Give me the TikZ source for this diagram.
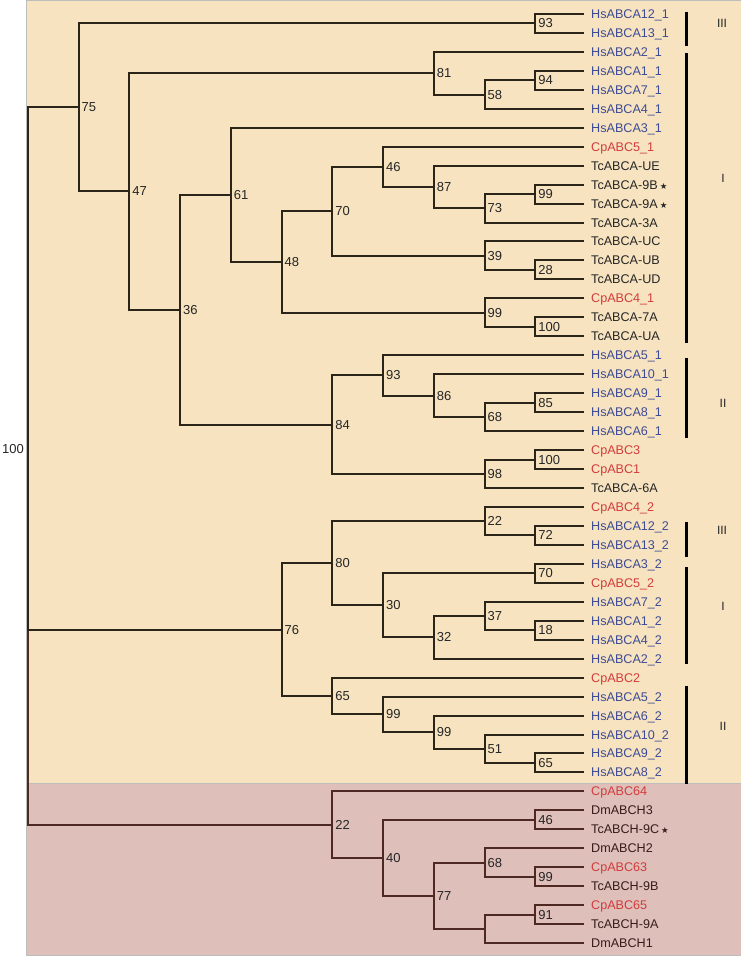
\documentclass[tikz,border=0pt]{standalone}
\usepackage{fontspec}
\setmainfont{Liberation Sans}
\newfontfamily\starfont{DejaVu Sans}
\usepackage{tikz}
\usetikzlibrary{positioning}
\usepackage{xcolor}
\definecolor{beige}{HTML}{F7E3BF}
\definecolor{rosy}{HTML}{DEBFBA}
\definecolor{frm}{HTML}{BDBDBD}
\definecolor{hsblue}{HTML}{3C4B96}
\definecolor{cpred}{HTML}{D23C3C}
\definecolor{twig}{HTML}{2B2419}
\definecolor{twigpk}{HTML}{4E2823}
\newcommand{\tstar}{\,{\starfont\fontsize{8.5}{9}\selectfont ★}}
\tikzset{
  lf/.style     ={anchor=west, inner xsep=7pt, inner ysep=0pt,
                  text height=9pt, text depth=0pt,
                  font=\fontsize{12.6}{14}\selectfont},
  hs/.style     ={lf, text=hsblue},
  cp/.style     ={lf, text=cpred},
  tc/.style     ={lf, text=black!85},
  dm/.style     ={lf, text=twigpk!70!black},
  brn/.style    ={line width=2pt, twig},
  brnpk/.style  ={line width=2pt, twigpk},
  bs/.style     ={anchor=west, xshift=2pt, inner sep=1pt,
                  text height=9pt, text depth=0pt,
                  font=\fontsize{13}{14}\selectfont, text=black!85},
  clbar/.style  ={line width=3pt, black},
  cllab/.style  ={font=\fontsize{12}{14}\selectfont, text=black!85},
  frame/.style  ={line width=1.3pt, frm},
}
\begin{document}
\begin{tikzpicture}[x=1pt, y=-1pt]
  \useasboundingbox (0,0) rectangle (741,957);
  % ---- panels
  \fill[beige] (26.7,0.7) rectangle (741,783.3);
  \fill[rosy]  (26.7,783.3) rectangle (741,955.5);
  \draw[frame] (741,0.7) -- (26.7,0.7) -- (26.7,955.5) -- (741,955.5);
  \draw[frame] (26.7,783.3) -- (741,783.3);
  % ---- leaves
  \node[hs] (hs12a) at (584,14.0)  {HsABCA12\_1};
  \node[hs] (hs13a) at (584,33.0)  {HsABCA13\_1};
  \node[hs] (hs2a)  at (584,51.9)  {HsABCA2\_1};
  \node[hs] (hs1a)  at (584,70.9)  {HsABCA1\_1};
  \node[hs] (hs7a)  at (584,89.8)  {HsABCA7\_1};
  \node[hs] (hs4a)  at (584,108.8) {HsABCA4\_1};
  \node[hs] (hs3a)  at (584,127.8) {HsABCA3\_1};
  \node[cp] (cp5a)  at (584,146.7) {CpABC5\_1};
  \node[tc] (tcUE)  at (584,165.7) {TcABCA-UE};
  \node[tc] (tc9B)  at (584,184.6) {TcABCA-9B\tstar};
  \node[tc] (tc9A)  at (584,203.6) {TcABCA-9A\tstar};
  \node[tc] (tc3A)  at (584,222.6) {TcABCA-3A};
  \node[tc] (tcUC)  at (584,241.5) {TcABCA-UC};
  \node[tc] (tcUB)  at (584,260.5) {TcABCA-UB};
  \node[tc] (tcUD)  at (584,279.4) {TcABCA-UD};
  \node[cp] (cp4a)  at (584,298.4) {CpABC4\_1};
  \node[tc] (tc7A)  at (584,317.4) {TcABCA-7A};
  \node[tc] (tcUA)  at (584,336.3) {TcABCA-UA};
  \node[hs] (hs5a)  at (584,355.3) {HsABCA5\_1};
  \node[hs] (hs10a) at (584,374.2) {HsABCA10\_1};
  \node[hs] (hs9a)  at (584,393.2) {HsABCA9\_1};
  \node[hs] (hs8a)  at (584,412.2) {HsABCA8\_1};
  \node[hs] (hs6a)  at (584,431.1) {HsABCA6\_1};
  \node[cp] (cp3)   at (584,450.1) {CpABC3};
  \node[cp] (cp1)   at (584,469.0) {CpABC1};
  \node[tc] (tc6A)  at (584,488.0) {TcABCA-6A};
  \node[cp] (cp4b)  at (584,507.0) {CpABC4\_2};
  \node[hs] (hs12b) at (584,525.9) {HsABCA12\_2};
  \node[hs] (hs13b) at (584,544.9) {HsABCA13\_2};
  \node[hs] (hs3b)  at (584,563.8) {HsABCA3\_2};
  \node[cp] (cp5b)  at (584,582.8) {CpABC5\_2};
  \node[hs] (hs7b)  at (584,601.8) {HsABCA7\_2};
  \node[hs] (hs1b)  at (584,620.7) {HsABCA1\_2};
  \node[hs] (hs4b)  at (584,639.7) {HsABCA4\_2};
  \node[hs] (hs2b)  at (584,658.6) {HsABCA2\_2};
  \node[cp] (cp2)   at (584,677.6) {CpABC2};
  \node[hs] (hs5b)  at (584,696.6) {HsABCA5\_2};
  \node[hs] (hs6b)  at (584,715.5) {HsABCA6\_2};
  \node[hs] (hs10b) at (584,734.5) {HsABCA10\_2};
  \node[hs] (hs9b)  at (584,753.4) {HsABCA9\_2};
  \node[hs] (hs8b)  at (584,772.4) {HsABCA8\_2};
  \node[cp] (cp64)  at (584,791.4) {CpABC64};
  \node[dm] (dm3)   at (584,810.3) {DmABCH3};
  \node[dm] (tc9C)  at (584,829.3) {TcABCH-9C\tstar};
  \node[dm] (dm2)   at (584,848.2) {DmABCH2};
  \node[cp] (cp63)  at (584,867.2) {CpABC63};
  \node[dm] (tcH9B) at (584,886.2) {TcABCH-9B};
  \node[cp] (cp65)  at (584,905.1) {CpABC65};
  \node[dm] (tcH9A) at (584,924.1) {TcABCH-9A};
  \node[dm] (dm1)   at (584,943.0) {DmABCH1};
  % ---- inner nodes: ABCA half
  \coordinate (root) at (27.7,466.0);
  \coordinate (n75)  at (78.5,107.5);
  \coordinate (n93a) at (535.2,23.5);
  \coordinate (n47)  at (129.2,191.5);
  \coordinate (n81)  at (433.7,73.2);
  \coordinate (n58)  at (484.5,94.6);
  \coordinate (n94)  at (535.2,80.4);
  \coordinate (n36)  at (180.0,309.8);
  \coordinate (n61)  at (230.7,194.9);
  \coordinate (n48)  at (281.5,262.0);
  \coordinate (n70a) at (332.2,211.3);
  \coordinate (n46a) at (383.0,166.9);
  \coordinate (n87)  at (433.7,187.0);
  \coordinate (n73)  at (484.5,208.4);
  \coordinate (n99b) at (535.2,194.1);
  \coordinate (n39)  at (484.5,255.7);
  \coordinate (n28)  at (535.2,270.0);
  \coordinate (n99a) at (484.5,312.6);
  \coordinate (n100a) at (535.2,326.9);
  \coordinate (n84)  at (332.2,424.6);
  \coordinate (n93b) at (383.0,375.4);
  \coordinate (n86)  at (433.7,395.6);
  \coordinate (n68a) at (484.5,416.9);
  \coordinate (n85)  at (535.2,402.7);
  \coordinate (n98)  at (484.5,473.8);
  \coordinate (n100b) at (535.2,459.6);
  \coordinate (n76)  at (281.5,629.7);
  \coordinate (n80)  at (332.2,563.3);
  \coordinate (n22a) at (484.5,521.2);
  \coordinate (n72)  at (535.2,535.4);
  \coordinate (n30)  at (383.0,605.3);
  \coordinate (n70b) at (535.2,573.3);
  \coordinate (n32)  at (433.7,637.3);
  \coordinate (n37)  at (484.5,616.0);
  \coordinate (n18)  at (535.2,630.2);
  \coordinate (n65a) at (332.2,696.0);
  \coordinate (n99c) at (383.0,714.4);
  \coordinate (n99d) at (433.7,732.1);
  \coordinate (n51)  at (484.5,748.7);
  \coordinate (n65b) at (535.2,762.9);
  % ---- inner nodes: ABCH half
  \coordinate (n22b) at (332.2,824.6);
  \coordinate (n40)  at (383.0,857.8);
  \coordinate (n46b) at (535.2,819.8);
  \coordinate (n77)  at (433.7,895.7);
  \coordinate (n68b) at (484.5,862.5);
  \coordinate (n99e) at (535.2,876.7);
  \coordinate (nu)   at (484.5,928.8);
  \coordinate (n91)  at (535.2,914.6);
  % ---- branches
  \draw[brnpk] (root) |- (n22b);
  \draw[brn] (root) |- (n75) (root) |- (n76);
  \draw[brn] (n75) |- (n93a) (n75) |- (n47);
  \draw[brn] (n93a) |- (hs12a.west) (n93a) |- (hs13a.west);
  \draw[brn] (n47) |- (n81) (n47) |- (n36);
  \draw[brn] (n81) |- (hs2a.west) (n81) |- (n58);
  \draw[brn] (n58) |- (n94) (n58) |- (hs4a.west);
  \draw[brn] (n94) |- (hs1a.west) (n94) |- (hs7a.west);
  \draw[brn] (n36) |- (n61) (n36) |- (n84);
  \draw[brn] (n61) |- (hs3a.west) (n61) |- (n48);
  \draw[brn] (n48) |- (n70a) (n48) |- (n99a);
  \draw[brn] (n70a) |- (n46a) (n70a) |- (n39);
  \draw[brn] (n46a) |- (cp5a.west) (n46a) |- (n87);
  \draw[brn] (n87) |- (tcUE.west) (n87) |- (n73);
  \draw[brn] (n73) |- (n99b) (n73) |- (tc3A.west);
  \draw[brn] (n99b) |- (tc9B.west) (n99b) |- (tc9A.west);
  \draw[brn] (n39) |- (tcUC.west) (n39) |- (n28);
  \draw[brn] (n28) |- (tcUB.west) (n28) |- (tcUD.west);
  \draw[brn] (n99a) |- (cp4a.west) (n99a) |- (n100a);
  \draw[brn] (n100a) |- (tc7A.west) (n100a) |- (tcUA.west);
  \draw[brn] (n84) |- (n93b) (n84) |- (n98);
  \draw[brn] (n93b) |- (hs5a.west) (n93b) |- (n86);
  \draw[brn] (n86) |- (hs10a.west) (n86) |- (n68a);
  \draw[brn] (n68a) |- (n85) (n68a) |- (hs6a.west);
  \draw[brn] (n85) |- (hs9a.west) (n85) |- (hs8a.west);
  \draw[brn] (n98) |- (n100b) (n98) |- (tc6A.west);
  \draw[brn] (n100b) |- (cp3.west) (n100b) |- (cp1.west);
  \draw[brn] (n76) |- (n80) (n76) |- (n65a);
  \draw[brn] (n80) |- (n22a) (n80) |- (n30);
  \draw[brn] (n22a) |- (cp4b.west) (n22a) |- (n72);
  \draw[brn] (n72) |- (hs12b.west) (n72) |- (hs13b.west);
  \draw[brn] (n30) |- (n70b) (n30) |- (n32);
  \draw[brn] (n70b) |- (hs3b.west) (n70b) |- (cp5b.west);
  \draw[brn] (n32) |- (n37) (n32) |- (hs2b.west);
  \draw[brn] (n37) |- (hs7b.west) (n37) |- (n18);
  \draw[brn] (n18) |- (hs1b.west) (n18) |- (hs4b.west);
  \draw[brn] (n65a) |- (cp2.west) (n65a) |- (n99c);
  \draw[brn] (n99c) |- (hs5b.west) (n99c) |- (n99d);
  \draw[brn] (n99d) |- (hs6b.west) (n99d) |- (n51);
  \draw[brn] (n51) |- (hs10b.west) (n51) |- (n65b);
  \draw[brn] (n65b) |- (hs9b.west) (n65b) |- (hs8b.west);
  \draw[brnpk] (n22b) |- (cp64.west) (n22b) |- (n40);
  \draw[brnpk] (n40) |- (n46b) (n40) |- (n77);
  \draw[brnpk] (n46b) |- (dm3.west) (n46b) |- (tc9C.west);
  \draw[brnpk] (n77) |- (n68b) (n77) |- (nu);
  \draw[brnpk] (n68b) |- (dm2.west) (n68b) |- (n99e);
  \draw[brnpk] (n99e) |- (cp63.west) (n99e) |- (tcH9B.west);
  \draw[brnpk] (nu) |- (n91) (nu) |- (dm1.west);
  \draw[brnpk] (n91) |- (cp65.west) (n91) |- (tcH9A.west);
  % ---- support values
  \node[bs, anchor=west, xshift=0pt, inner sep=0pt] (broot) at (0,449) {100};
  \node[bs] (b75)   at (n75)   {75};
  \node[bs] (b93a)  at (n93a)  {93};
  \node[bs] (b47)   at (n47)   {47};
  \node[bs] (b81)   at (n81)   {81};
  \node[bs] (b58)   at (n58)   {58};
  \node[bs] (b94)   at (n94)   {94};
  \node[bs] (b36)   at (n36)   {36};
  \node[bs] (b61)   at (n61)   {61};
  \node[bs] (b48)   at (n48)   {48};
  \node[bs] (b70a)  at (n70a)  {70};
  \node[bs] (b46a)  at (n46a)  {46};
  \node[bs] (b87)   at (n87)   {87};
  \node[bs] (b73)   at (n73)   {73};
  \node[bs] (b99b)  at (n99b)  {99};
  \node[bs] (b39)   at (n39)   {39};
  \node[bs] (b28)   at (n28)   {28};
  \node[bs] (b99a)  at (n99a)  {99};
  \node[bs] (b100a) at (n100a) {100};
  \node[bs] (b84)   at (n84)   {84};
  \node[bs] (b93b)  at (n93b)  {93};
  \node[bs] (b86)   at (n86)   {86};
  \node[bs] (b68a)  at (n68a)  {68};
  \node[bs] (b85)   at (n85)   {85};
  \node[bs] (b98)   at (n98)   {98};
  \node[bs] (b100b) at (n100b) {100};
  \node[bs] (b76)   at (n76)   {76};
  \node[bs] (b80)   at (n80)   {80};
  \node[bs] (b22a)  at (n22a)  {22};
  \node[bs] (b72)   at (n72)   {72};
  \node[bs] (b30)   at (n30)   {30};
  \node[bs] (b70b)  at (n70b)  {70};
  \node[bs] (b32)   at (n32)   {32};
  \node[bs] (b37)   at (n37)   {37};
  \node[bs] (b18)   at (n18)   {18};
  \node[bs] (b65a)  at (n65a)  {65};
  \node[bs] (b99c)  at (n99c)  {99};
  \node[bs] (b99d)  at (n99d)  {99};
  \node[bs] (b51)   at (n51)   {51};
  \node[bs] (b65b)  at (n65b)  {65};
  \node[bs] (b22b)  at (n22b)  {22};
  \node[bs] (b40)   at (n40)   {40};
  \node[bs] (b46b)  at (n46b)  {46};
  \node[bs] (b77)   at (n77)   {77};
  \node[bs] (b68b)  at (n68b)  {68};
  \node[bs] (b99e)  at (n99e)  {99};
  \node[bs] (b91)   at (n91)   {91};
  % ---- subfamily bars
  \draw[clbar] (686.5,12)  -- (686.5,46);
  \draw[clbar] (686.5,53)  -- (686.5,343);
  \draw[clbar] (686.5,358) -- (686.5,438);
  \draw[clbar] (686.5,522) -- (686.5,557);
  \draw[clbar] (686.5,567) -- (686.5,664);
  \draw[clbar] (686.5,686) -- (686.5,784);
  \node[cllab] (c3a) at (722,23)  {III};
  \node[cllab] (c1a) at (723,178) {I};
  \node[cllab] (c2a) at (723,403) {II};
  \node[cllab] (c3b) at (722,530) {III};
  \node[cllab] (c1b) at (723,606) {I};
  \node[cllab] (c2b) at (723,726) {II};
\end{tikzpicture}
\end{document}
